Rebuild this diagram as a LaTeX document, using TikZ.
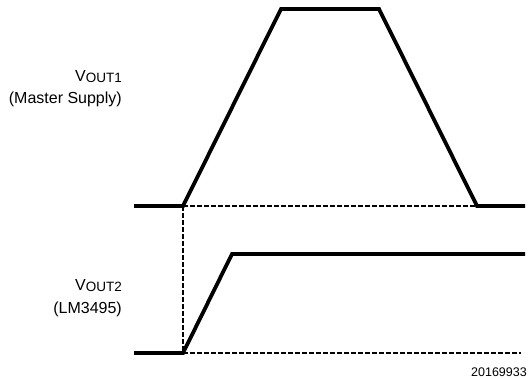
\documentclass[tikz,border=0pt]{standalone}
\usepackage{fontspec}
\setmainfont{Liberation Sans}
\usepackage{tikz}

\begin{document}
\begin{tikzpicture}[x=1pt,y=-1pt,
  wave/.style={line width=3.8pt},
  guide/.style={line width=1.3pt,dash pattern=on 4.5pt off 2.5pt},
  sig/.style={font=\fontsize{16}{18}\selectfont,anchor=base east,inner sep=0pt}]
  \useasboundingbox (0,0) rectangle (528,378);
  % master supply ramp
  \coordinate (m0) at (134,206);
  \coordinate (m1) at (183,206);
  \coordinate (m2) at (281,9);
  \coordinate (m3) at (379,9);
  \coordinate (m4) at (477,206);
  \coordinate (m5) at (525,206);
  % LM3495 ramp
  \coordinate (s0) at (134,353);
  \coordinate (s1) at (183,353);
  \coordinate (s2) at (232,254);
  \coordinate (s3) at (525,254);
  \coordinate (s4) at (521,353);
  \draw[guide] (m1) -- (m4);
  \draw[guide] (s1) -- (s4);
  \draw[guide,line width=2pt] (m1) -- (s1);
  \draw[wave] (m0) -- (m1) -- (m2) -- (m3) -- (m4) -- (m5);
  \draw[wave] (s0) -- (s1) -- (s2) -- (s3);
  \node[sig] (v1) at (122,81) {V{\fontsize{13.5}{14}\selectfont\raisebox{-1pt}{OUT1}}};
  \node[sig] (v1t) at (122,103) {(Master Supply)};
  \node[sig] (v2) at (122,290) {V{\fontsize{13.5}{14}\selectfont\raisebox{-1pt}{OUT2}}};
  \node[sig] (v2t) at (122,313) {(LM3495)};
  \node[anchor=base east,inner sep=0pt,font=\fontsize{12.5}{14}\selectfont] (fig) at (527,376) {20169933};
\end{tikzpicture}
\end{document}
